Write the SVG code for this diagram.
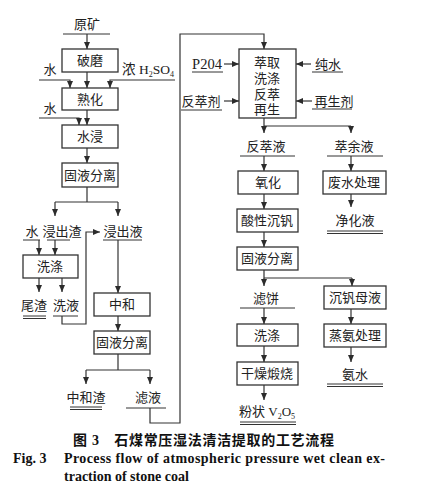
<svg xmlns="http://www.w3.org/2000/svg" width="433" height="494" viewBox="0 0 433 494">
<defs>
<marker id="ah" markerWidth="7" markerHeight="6" refX="7" refY="3" orient="auto" markerUnits="userSpaceOnUse"><path d="M0,0 L7,3 L0,6 z" fill="#2b2b2b"/></marker>
<style>
.b{fill:#fff;stroke:#333;stroke-width:1.3}
.t{font-family:"Liberation Serif","Noto Sans CJK SC",serif;font-size:13px;fill:#222;text-anchor:middle}
.l{fill:none;stroke:#333;stroke-width:1.2}
.a{fill:none;stroke:#333;stroke-width:1.2;marker-end:url(#ah)}
.u{fill:none;stroke:#333;stroke-width:1}
.cap{font-family:"Liberation Serif","Noto Sans CJK SC",serif;font-weight:bold;fill:#111}
</style>
</defs>
<rect width="433" height="494" fill="#fff"/>

<g id="connectors">
<path class="a" d="M87,34 V49"/>
<path class="a" d="M87,72 V88"/>
<path class="a" d="M39,80 H70 V88"/>
<path class="a" d="M175,80 H110 V88"/>
<path class="a" d="M87,110 V125"/>
<path class="a" d="M39,118 H79 V125"/>
<path class="a" d="M87,148 V163"/>
<path class="l" d="M87,187 V202 M55,202 H118"/>
<path class="a" d="M55,202 V216"/>
<path class="a" d="M118,202 V216"/>
<path class="a" d="M39,240 V255"/>
<path class="a" d="M55,240 V255"/>
<path class="a" d="M39,278 V292"/>
<path class="a" d="M62,278 V292"/>
<path class="a" d="M62,316 V324 H86 V232 H100"/>
<path class="a" d="M118,240 V293"/>
<path class="a" d="M118,316 V331"/>
<path class="l" d="M118,354 V370 M86,370 H150"/>
<path class="a" d="M86,370 V384"/>
<path class="a" d="M150,370 V384"/>
<path class="a" d="M150,408 V423 H180 V34 H264 V49"/>
<path class="a" d="M224,64 H239"/>
<path class="a" d="M224,101 H239"/>
<path class="a" d="M311,64 H296"/>
<path class="a" d="M312,101 H296"/>
<path class="l" d="M264,118 V126 H351"/>
<path class="a" d="M264,126 V133"/>
<path class="a" d="M351,126 V133"/>
<path class="a" d="M264,156 V171"/>
<path class="a" d="M351,156 V171"/>
<path class="a" d="M264,194 V209"/>
<path class="a" d="M351,194 V207"/>
<path class="a" d="M264,232 V247"/>
<path class="l" d="M264,270 V278 H352"/>
<path class="a" d="M264,278 V286"/>
<path class="a" d="M352,278 V286"/>
<path class="a" d="M264,308 V324"/>
<path class="a" d="M351,309 V324"/>
<path class="a" d="M264,346 V362"/>
<path class="a" d="M351,347 V362"/>
<path class="a" d="M264,385 V400"/>
</g>

<g id="n-yuankuang"><text class="t" x="87" y="29">原矿</text><path class="u" d="M63,34 H110"/></g>
<g id="n-pomo"><rect class="b" x="62" y="49" width="56" height="23"/><text class="t" x="90" y="65">破磨</text></g>
<g id="n-shui1"><text class="t" x="50" y="74">水</text></g>
<g id="n-h2so4"><text class="t" x="148" y="74" style="font-size:13.5px">浓 H<tspan font-size="8" dy="3">2</tspan><tspan dy="-3">SO</tspan><tspan font-size="8" dy="3">4</tspan></text></g>
<g id="n-shuhua"><rect class="b" x="62" y="88" width="56" height="22"/><text class="t" x="90" y="104">熟化</text></g>
<g id="n-shui2"><text class="t" x="50" y="113">水</text></g>
<g id="n-shuijin"><rect class="b" x="62" y="125" width="56" height="23"/><text class="t" x="90" y="141">水浸</text></g>
<g id="n-gyfl1"><rect class="b" x="62" y="163" width="56" height="24"/><text class="t" x="90" y="180">固液分离</text></g>
<g id="n-shui3"><text class="t" x="32" y="236">水</text><path class="u" d="M23,240 H40"/></g>
<g id="n-jinchuzha"><text class="t" x="62" y="236">浸出渣</text><path class="u" d="M47,240 H70"/></g>
<g id="n-jinchuye"><text class="t" x="123" y="236">浸出液</text><path class="u" d="M103,240 H142"/></g>
<g id="n-xidi1"><rect class="b" x="23" y="255" width="55" height="23"/><text class="t" x="50" y="271">洗涤</text></g>
<g id="n-weizha"><text class="t" x="34" y="310">尾渣</text><path class="u" d="M23,316 H46 M23,318.5 H46"/></g>
<g id="n-xiye"><text class="t" x="66" y="310">洗液</text><path class="u" d="M53,316 H78"/></g>
<g id="n-zhonghe"><rect class="b" x="94" y="293" width="56" height="23"/><text class="t" x="122" y="309">中和</text></g>
<g id="n-gyfl2"><rect class="b" x="94" y="331" width="56" height="23"/><text class="t" x="122" y="347">固液分离</text></g>
<g id="n-zhonghezha"><text class="t" x="86" y="402">中和渣</text><path class="u" d="M70,407 H102 M70,409.5 H102"/></g>
<g id="n-lvye"><text class="t" x="148" y="402">滤液</text><path class="u" d="M126,408 H166"/></g>

<g id="n-main"><rect class="b" x="239" y="49" width="57" height="69"/>
<text class="t" x="267" y="67">萃取</text><text class="t" x="267" y="83">洗涤</text><text class="t" x="267" y="99">反萃</text><text class="t" x="267" y="114">再生</text></g>
<g id="n-p204"><text class="t" x="207" y="69" style="font-size:14.5px">P204</text><path class="u" d="M192,72 H223"/></g>
<g id="n-fancuiji"><text class="t" x="201" y="106">反萃剂</text><path class="u" d="M181,110 H222"/></g>
<g id="n-chunshui"><text class="t" x="328" y="69">纯水</text><path class="u" d="M312,72 H343"/></g>
<g id="n-zaishengji"><text class="t" x="334" y="106">再生剂</text><path class="u" d="M312,109 H352"/></g>
<g id="n-fancuiye"><text class="t" x="266" y="151">反萃液</text><path class="u" d="M240,156 H295"/></g>
<g id="n-cuiyuye"><text class="t" x="354" y="151">萃余液</text><path class="u" d="M327,156 H383"/></g>
<g id="n-yanghua"><rect class="b" x="238" y="171" width="60" height="23"/><text class="t" x="268" y="187">氧化</text></g>
<g id="n-feishui"><rect class="b" x="323" y="171" width="63" height="23"/><text class="t" x="354" y="187">废水处理</text></g>
<g id="n-jinghuaye"><text class="t" x="355" y="225">净化液</text><path class="u" d="M327,231 H383 M327,233.5 H383"/></g>
<g id="n-suanxing"><rect class="b" x="237" y="209" width="61" height="23"/><text class="t" x="267" y="225">酸性沉钒</text></g>
<g id="n-gyfl3"><rect class="b" x="237" y="247" width="61" height="23"/><text class="t" x="267" y="263">固液分离</text></g>
<g id="n-lvbing"><text class="t" x="266" y="303">滤饼</text><path class="u" d="M240,308 H295"/></g>
<g id="n-muye"><rect class="b" x="324" y="286" width="62" height="23"/><text class="t" x="355" y="302">沉钒母液</text></g>
<g id="n-xidi2"><rect class="b" x="237" y="324" width="61" height="22"/><text class="t" x="267" y="340">洗涤</text></g>
<g id="n-zhengan"><rect class="b" x="324" y="324" width="62" height="23"/><text class="t" x="355" y="340">蒸氨处理</text></g>
<g id="n-ganzao"><rect class="b" x="237" y="362" width="61" height="23"/><text class="t" x="267" y="378">干燥煅烧</text></g>
<g id="n-anshui"><text class="t" x="355" y="379">氨水</text><path class="u" d="M327,384 H383 M327,386.5 H383"/></g>
<g id="n-v2o5"><text class="t" x="267" y="416">粉状 V<tspan font-size="8" dy="3">2</tspan><tspan dy="-3">O</tspan><tspan font-size="8" dy="3">5</tspan></text><path class="u" d="M240,422 H296 M240,424.5 H296"/></g>

<g id="caption">
<text class="cap" x="73" y="445" font-size="14" textLength="261" lengthAdjust="spacing">图 3　石煤常压湿法清洁提取的工艺流程</text>
<text class="cap" x="13" y="463" font-size="14">Fig. 3</text>
<text class="cap" x="64" y="463" font-size="14" textLength="321" lengthAdjust="spacing">Process flow of atmospheric pressure wet clean ex-</text>
<text class="cap" x="64" y="481" font-size="14">traction of stone coal</text>
</g>
</svg>
